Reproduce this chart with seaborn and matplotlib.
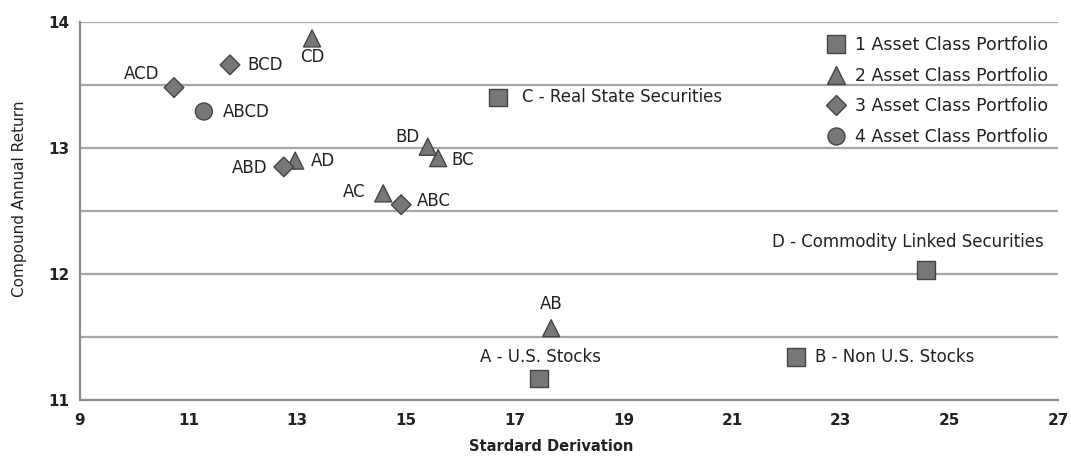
import matplotlib
matplotlib.use("Agg")
import matplotlib.pyplot as plt
import pandas as pd
import seaborn as sns
from matplotlib.ticker import MultipleLocator

# ---- data ----
names = ["A - U.S. Stocks", "B - Non U.S. Stocks", "C - Real State Securities",
         "D - Commodity Linked Securities",
         "AB", "AC", "AD", "BC", "BD", "CD",
         "ABC", "ABD", "ACD", "BCD", "ABCD"]
std_dev = [17.45, 22.18, 16.69, 24.57,
           17.67, 14.58, 12.96, 15.59, 15.40, 13.27,
           14.91, 12.75, 10.73, 11.76, 11.28]
annual_return = [11.17, 11.34, 13.40, 12.03,
                 11.57, 12.64, 12.90, 12.92, 13.01, 13.87,
                 12.55, 12.85, 13.48, 13.66, 13.29]
portfolio = (["1 Asset Class Portfolio"] * 4 + ["2 Asset Class Portfolio"] * 6 +
             ["3 Asset Class Portfolio"] * 4 + ["4 Asset Class Portfolio"])
legend_order = ["1 Asset Class Portfolio", "2 Asset Class Portfolio",
                "3 Asset Class Portfolio", "4 Asset Class Portfolio"]
x_ticks = [9, 11, 13, 15, 17, 19, 21, 23, 25, 27]
y_ticks = [11, 12, 13, 14]

# label offsets in pixels (dx, dy, ha, va)
label_pos = {
    "A - U.S. Stocks": (1, 22, "center", "center"),
    "B - Non U.S. Stocks": (19, 0, "left", "center"),
    "C - Real State Securities": (24, 1, "left", "center"),
    "D - Commodity Linked Securities": (-18, 28, "center", "center"),
    "AB": (0, 24, "center", "center"),
    "AC": (-18, 1, "right", "center"),
    "AD": (16, 0, "left", "center"),
    "BC": (13, -2, "left", "center"),
    "BD": (-8, 10, "right", "center"),
    "CD": (0, -19, "center", "center"),
    "ABC": (16, 4, "left", "center"),
    "ABD": (-16, -1, "right", "center"),
    "ACD": (-15, 14, "right", "center"),
    "BCD": (17, 0, "left", "center"),
    "ABCD": (19, -1, "left", "center"),
}

df = pd.DataFrame({"name": names, "std": std_dev, "ret": annual_return,
                   "Portfolio": portfolio})

sns.set_theme(style="white")
plt.rcParams["font.family"] = ["DejaVu Sans"]

fig = plt.figure(figsize=(10.71, 4.59), dpi=100)
fig.patch.set_facecolor("white")
ax = fig.add_axes([0.0747, 0.1285, 0.9133, 0.8235])

markers = {"1 Asset Class Portfolio": "s", "2 Asset Class Portfolio": "^",
           "3 Asset Class Portfolio": "D", "4 Asset Class Portfolio": "o"}
sizes_map = {"1 Asset Class Portfolio": 160, "2 Asset Class Portfolio": 150,
             "3 Asset Class Portfolio": 100, "4 Asset Class Portfolio": 150}
palette = {k: "#777777" for k in legend_order}

sns.scatterplot(data=df, x="std", y="ret", hue="Portfolio", style="Portfolio",
                hue_order=legend_order, style_order=legend_order,
                markers=markers, palette=palette, size="Portfolio",
                sizes=sizes_map, size_order=legend_order,
                edgecolor="#444444", linewidth=1.0, ax=ax, zorder=3)

for n, x, y in zip(names, std_dev, annual_return):
    dx, dy, ha, va = label_pos[n]
    ax.annotate(n, (x, y), xytext=(dx, dy), textcoords="offset pixels",
                ha=ha, va=va, fontsize=12, color="#222222", zorder=4)

ax.set_xlim(9, 27)
ax.set_ylim(11, 14)
ax.set_xticks(x_ticks)
ax.set_yticks(y_ticks)
ax.yaxis.set_minor_locator(MultipleLocator(0.5))
ax.grid(axis="y", which="both", color="#a6a6a6", linewidth=1.6, zorder=0)
ax.grid(axis="x", visible=False)
ax.set_axisbelow(True)

for s in ["top", "right"]:
    ax.spines[s].set_visible(False)
for s in ["left", "bottom"]:
    ax.spines[s].set_color("#8c8c8c")
    ax.spines[s].set_linewidth(1.6)

ax.tick_params(axis="both", which="major", length=4, width=1.2, color="#8c8c8c",
               labelsize=11, labelcolor="#222222")
ax.tick_params(axis="y", which="minor", length=0)
ax.tick_params(axis="x", direction="out", pad=5)
for lbl in ax.get_xticklabels() + ax.get_yticklabels():
    lbl.set_fontweight("bold")

ax.set_xlabel("Stardard Derivation", fontsize=10.5, fontweight="bold",
              color="#222222")
ax.xaxis.set_label_coords(0.482, -0.103)
ax.set_ylabel("Compound Annual Return", fontsize=11, color="#222222",
              family=["Liberation Sans Narrow", "DejaVu Sans"])
ax.yaxis.set_label_coords(-0.054, 0.532)

handles, labels = ax.get_legend_handles_labels()
leg = ax.legend(handles, labels, loc="upper right", bbox_to_anchor=(1.0, 0.99),
                frameon=False, fontsize=12.5, handletextpad=0.1,
                labelspacing=0.72, markerscale=1.0, borderaxespad=0.2)
for t in leg.get_texts():
    t.set_color("#222222")

fig.savefig("out.png", dpi=100, facecolor="white")
